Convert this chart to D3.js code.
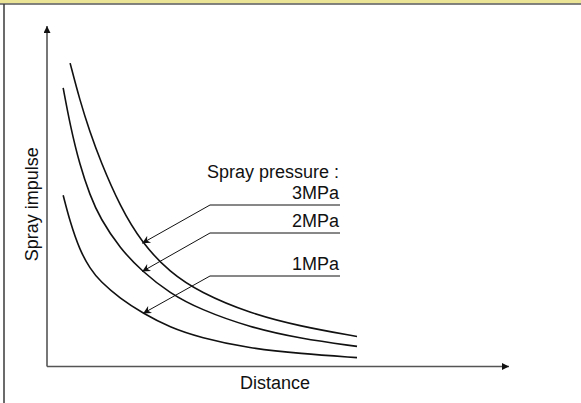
<!DOCTYPE html>
<html>
<head>
<meta charset="utf-8">
<script src="https://cdn.jsdelivr.net/npm/d3@7"></script>
<style>
  body { margin: 0; background: #fff; }
  text { font-family: "Liberation Sans", Arial, sans-serif; fill: #111; }
</style>
</head>
<body>
<div id="chart"></div>
<script>
// curve data (arbitrary units, distance 0-10, impulse 0-10)
var pressures = ["3MPa", "2MPa", "1MPa"];
var distance3 = [0.50, 0.71, 0.93, 1.15, 1.58, 2.06, 2.66, 3.31, 4.39, 5.48, 6.71];
var impulse3  = [8.91, 7.82, 6.88, 6.06, 4.70, 3.62, 2.76, 2.18, 1.56, 1.18, 0.88];
var distance2 = [0.35, 0.50, 0.71, 0.93, 1.15, 1.58, 2.06, 2.66, 3.31, 4.39, 5.48, 6.71];
var impulse2  = [8.18, 7.09, 5.91, 5.03, 4.35, 3.47, 2.79, 2.15, 1.68, 1.15, 0.82, 0.59];
var distance1 = [0.35, 0.50, 0.71, 0.93, 1.15, 1.58, 2.08, 2.66, 3.31, 4.39, 5.48, 6.71];
var impulse1  = [5.03, 4.24, 3.41, 2.88, 2.50, 2.00, 1.56, 1.15, 0.85, 0.53, 0.38, 0.26];
// where each leader arrow touches its curve (distance units)
var arrowAt = [2.06, 2.06, 2.08];
var legendTitle = "Spray pressure :";
var xLabel = "Distance";
var yLabel = "Spray impulse";

var width = 581, height = 403;
var svg = d3.select("#chart").append("svg")
    .attr("width", width)
    .attr("height", height);

// frame bits: yellow strip on top, dark rule under it and on the left
svg.append("rect").attr("x", 0).attr("y", 0).attr("width", width).attr("height", 3.5)
    .attr("fill", "#ebe395");
svg.append("line").attr("x1", 0).attr("x2", width).attr("y1", 4).attr("y2", 4)
    .attr("stroke", "#5a5a5a").attr("stroke-width", 1.6);
svg.append("line").attr("x1", 4).attr("x2", 4).attr("y1", 4).attr("y2", height)
    .attr("stroke", "#3a3a3a").attr("stroke-width", 1.5);

var x = d3.scaleLinear().domain([0, 10]).range([47, 509]);
var y = d3.scaleLinear().domain([0, 10]).range([366.5, 26]);

var defs = svg.append("defs");
defs.append("marker").attr("id", "axisHead")
    .attr("viewBox", "0 0 10 10").attr("refX", 10).attr("refY", 5)
    .attr("markerWidth", 8).attr("markerHeight", 7).attr("orient", "auto")
    .attr("markerUnits", "userSpaceOnUse")
  .append("path").attr("d", "M0,0L10,5L0,10z").attr("fill", "#111");
defs.append("marker").attr("id", "leadHead")
    .attr("viewBox", "0 0 10 10").attr("refX", 10).attr("refY", 5)
    .attr("markerWidth", 10).attr("markerHeight", 8).attr("orient", "auto")
    .attr("markerUnits", "userSpaceOnUse")
  .append("path").attr("d", "M0,0L10,5L0,10L3,5z").attr("fill", "#111");

// axes
svg.append("line")
    .attr("x1", x(0)).attr("y1", y(0)).attr("x2", x(0)).attr("y2", y(10))
    .attr("stroke", "#555").attr("stroke-width", 1.6)
    .attr("marker-end", "url(#axisHead)");
svg.append("line")
    .attr("x1", x(0)).attr("y1", y(0)).attr("x2", x(10)).attr("y2", y(0))
    .attr("stroke", "#555").attr("stroke-width", 1.6)
    .attr("marker-end", "url(#axisHead)");

svg.append("text").attr("x", 275).attr("y", 389)
    .attr("text-anchor", "middle").style("font-size", "18px").text(xLabel);
svg.append("text")
    .attr("transform", "translate(38," + ((y(0) + y(10)) / 2 + 8) + ") rotate(-90)")
    .attr("text-anchor", "middle").style("font-size", "18px").text(yLabel);

var series = [
    {name: pressures[0], d: distance3, v: impulse3},
    {name: pressures[1], d: distance2, v: impulse2},
    {name: pressures[2], d: distance1, v: impulse1}
];

var line = d3.line()
    .x(function(p){ return x(p[0]); })
    .y(function(p){ return y(p[1]); })
    .curve(d3.curveBasis);

svg.selectAll(".curve").data(series).enter().append("path")
    .attr("class", "curve")
    .attr("d", function(s){ return line(d3.zip(s.d, s.v)); })
    .attr("fill", "none").attr("stroke", "#111").attr("stroke-width", 1.6);

// legend labels with underline and leader arrow
var labelY = [205, 233, 276];
var lx0 = 210, lx1 = 340;

svg.append("text").attr("x", lx1 - 1).attr("y", 178)
    .attr("text-anchor", "end").style("font-size", "18px").text(legendTitle);

series.forEach(function(s, i){
    var ly = labelY[i];
    svg.append("text").attr("x", lx1 - 1).attr("y", ly - 6)
        .attr("text-anchor", "end").style("font-size", "18px").text(s.name);
    svg.append("line").attr("x1", lx0).attr("x2", lx1).attr("y1", ly).attr("y2", ly)
        .attr("stroke", "#111").attr("stroke-width", 1);
    // find curve height at arrow point by interpolating the read values
    var dv = arrowAt[i];
    var k = d3.bisectLeft(s.d, dv);
    var t = (dv - s.d[k - 1]) / (s.d[k] - s.d[k - 1]);
    var vv = s.v[k - 1] + t * (s.v[k] - s.v[k - 1]);
    svg.append("line").attr("x1", lx0).attr("y1", ly)
        .attr("x2", x(dv)).attr("y2", y(vv))
        .attr("stroke", "#111").attr("stroke-width", 1)
        .attr("marker-end", "url(#leadHead)");
});
</script>
</body>
</html>
